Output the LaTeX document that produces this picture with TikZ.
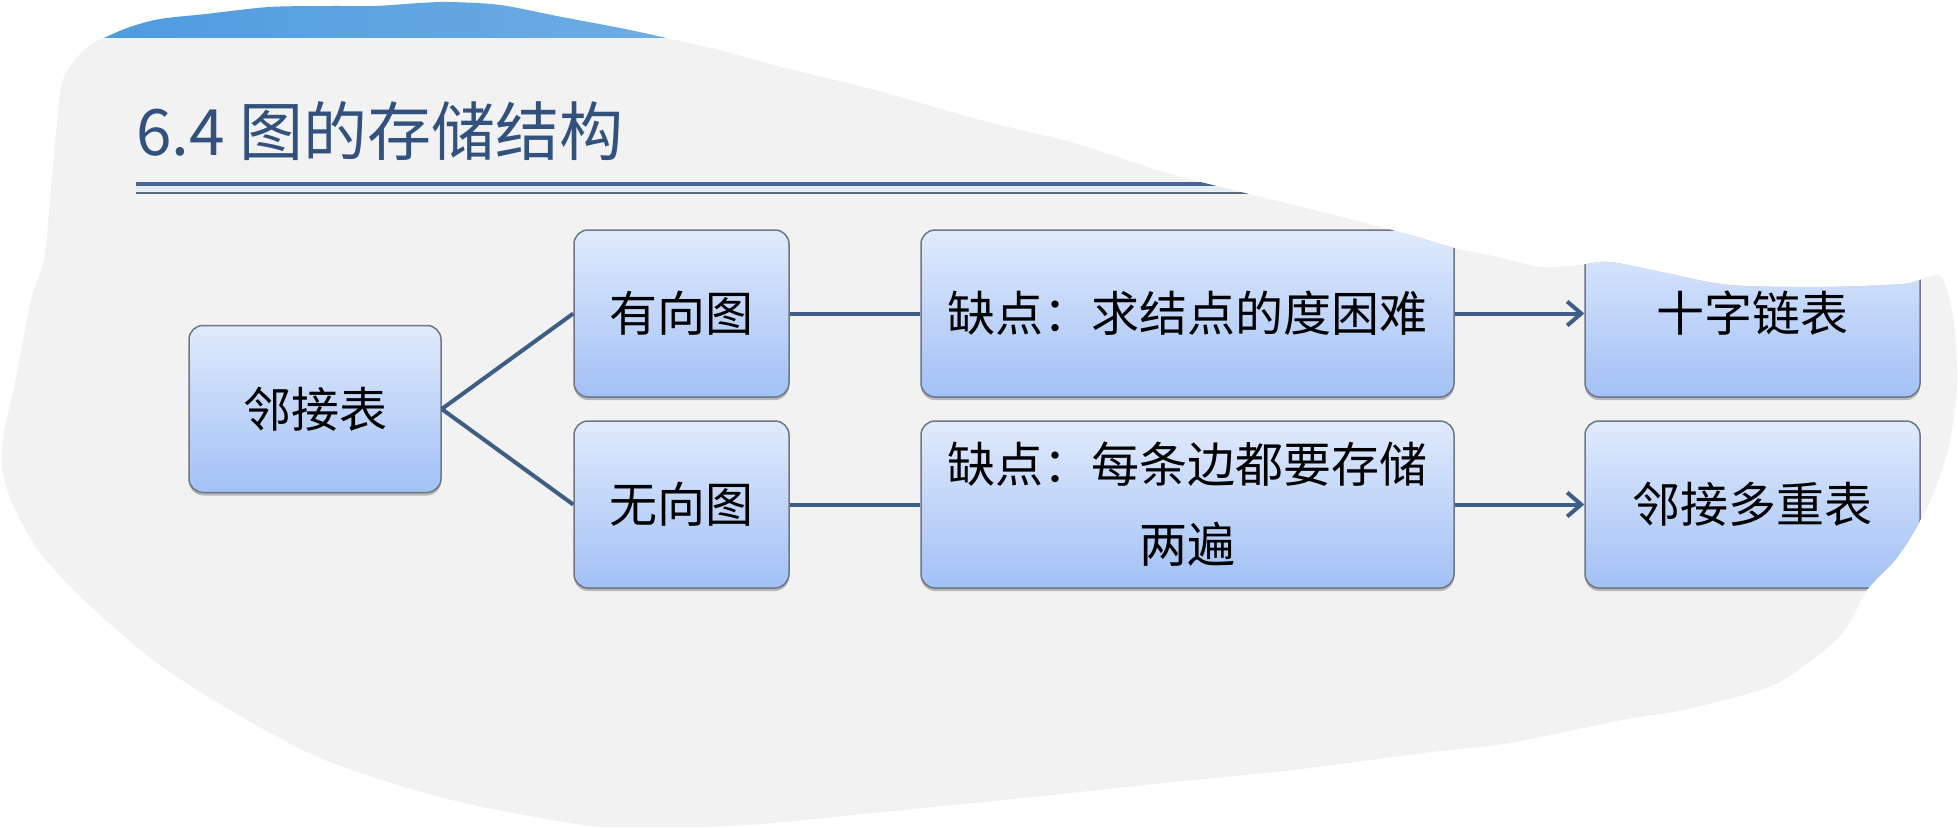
\documentclass[tikz,border=0pt]{standalone}
\usepackage{fontspec}
\newfontfamily\cjk{Noto Sans CJK SC}
\usetikzlibrary{arrows.meta,shadows}
\definecolor{bggray}{RGB}{242,242,242}
\definecolor{bandL}{RGB}{72,152,222}
\definecolor{bandR}{RGB}{112,174,228}
\definecolor{titleblue}{RGB}{50,82,125}
\definecolor{connblue}{RGB}{62,94,133}
\definecolor{boxtop}{RGB}{224,234,252}
\definecolor{boxbot}{RGB}{162,193,246}
\definecolor{boxline}{RGB}{110,118,132}
\definecolor{ruleA}{RGB}{72,102,145}
\definecolor{ruleB}{RGB}{90,104,124}
\definecolor{ruleband}{RGB}{228,236,246}
\begin{document}
\begin{tikzpicture}[x=0.5pt,y=-0.5pt,
  box/.style={draw=boxline, line width=0.75pt, rounded corners=7pt,
    top color=boxtop, bottom color=boxbot, minimum height=83.5pt,
    inner sep=0pt, align=center, text=black,
    font=\cjk\fontsize{24}{40}\selectfont,
    drop shadow={shadow xshift=0pt, shadow yshift=-1.5pt, opacity=0.35, fill=black!70}},
  conn/.style={draw=connblue, line width=2pt},
  arr/.style={conn, -{Straight Barb[length=7pt,width=12pt]}}]
\useasboundingbox (0,0) rectangle (1958,827);
\fill[white] (0,0) rectangle (1958,827);
\begin{scope}
\clip plot[smooth cycle, tension=0.5] coordinates {
 (106,37) (130,27) (160,19) (206,14) (269,7) (330,6) (375,6) (420,3) (450,2)
 (500,5) (562,17) (620,28) (662,37) (719,50) (781,67) (875,90) (980,120)
 (1074,143) (1167,173) (1261,197) (1354,220) (1417,237) (1454,248) (1498,257)
 (1541,267) (1579,265) (1610,262) (1666,273) (1729,285) (1822,287) (1903,284)
 (1922,279) (1941,277) (1953,317) (1957,383) (1950,440) (1935,490) (1915,530)
 (1895,560) (1867,590) (1845,630) (1812,660) (1769,687) (1683,710) (1622,720)
 (1509,743) (1423,753) (1293,770) (1163,783) (1033,797) (903,810) (773,823)
 (700,827) (600,827) (452,800) (325,760) (230,710) (153,660) (84,600)
 (38,550) (11,500) (2,467) (4,433) (15,383) (31,300) (44,260) (50,200)
 (56,133) (62,83) (75,60) (90,45)};
\fill[bggray] (0,0) rectangle (1958,827);
\shade[left color=bandL, right color=bandR] (0,0) rectangle (700,37.5);
\node[anchor=base west, inner sep=0pt, text=titleblue,
  font=\cjk\fontsize{32}{38}\selectfont] (title) at (136,155) {6.4 图的存储结构};
\fill[ruleband] (136,186) rectangle (1500,191);
\draw[ruleA, line width=2pt] (136,183.5) -- (1500,183.5);
\draw[ruleB, line width=1pt] (136,193) -- (1500,193);
\node[box, minimum width=126pt] (lj) at (315,409) {邻接表};
\node[box, minimum width=107.5pt] (yx) at (681.5,313.5) {有向图};
\node[box, minimum width=107.5pt] (wx) at (681.5,504.5) {无向图};
\node[box, minimum width=266.5pt] (q1) at (1187.5,313.5) {缺点：求结点的度困难};
\node[box, minimum width=266.5pt] (q2) at (1187.5,504.5) {缺点：每条边都要存储\\两遍};
\node[box, minimum width=167.5pt] (sz) at (1752.5,313.5) {十字链表};
\node[box, minimum width=167.5pt] (dc) at (1752.5,504.5) {邻接多重表};
\draw[conn] (lj.east) -- (yx.west);
\draw[conn] (lj.east) -- (wx.west);
\draw[conn] (yx.east) -- (q1.west);
\draw[conn] (wx.east) -- (q2.west);
\draw[arr] (q1.east) -- (sz.west);
\draw[arr] (q2.east) -- (dc.west);
\end{scope}
\end{tikzpicture}
\end{document}
